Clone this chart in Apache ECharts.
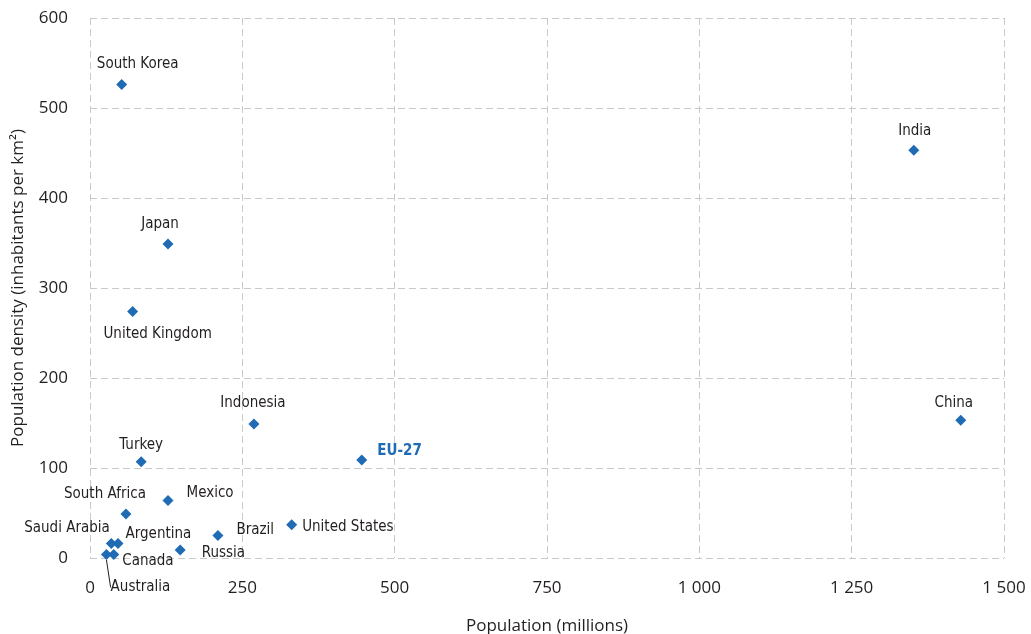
<!DOCTYPE html>
<html>
<head>
<meta charset="utf-8">
<script src="https://cdn.jsdelivr.net/npm/echarts@6/dist/echarts.min.js"></script>
<style>
html,body{margin:0;padding:0;background:#fff;}
#chart{width:1031px;height:634px;}
</style>
</head>
<body>
<div id="chart"></div>
<script>
// ---- data ----
const countries = ['South Korea','Japan','United Kingdom','India','China','Indonesia','EU-27','Turkey','Mexico','South Africa','United States','Brazil','Russia','Saudi Arabia','Argentina','Canada','Australia'];
const population = [52, 128, 70, 1352, 1429, 269, 446, 84, 128, 59, 331, 210, 148, 35, 46, 39, 27];
const density = [526, 349, 274, 453, 153, 149, 109, 107, 64, 49, 37, 25, 9, 16, 16, 4, 4];
const xTicks = [0, 250, 500, 750, 1000, 1250, 1500];
const yTicks = [0, 100, 200, 300, 400, 500, 600];

// ---- label placement (style, not data) ----
const labelStyle = {
  'South Korea':   {pos:'top',    d:[16,-2]},
  'Japan':         {pos:'top',    d:[-8,-2]},
  'United Kingdom':{pos:'bottom', d:[25,5]},
  'India':         {pos:'top',    d:[1,-1]},
  'China':         {pos:'top',    d:[-7,1]},
  'Indonesia':     {pos:'top',    d:[-1,-3]},
  'EU-27':         {pos:'right',  d:[5,-9]},
  'Turkey':        {pos:'top',    d:[0,1]},
  'Mexico':        {pos:'right',  d:[8,-7]},
  'South Africa':  {pos:'top',    d:[-21,-2]},
  'United States': {pos:'right',  d:[0,2]},
  'Brazil':        {pos:'right',  d:[8,-5]},
  'Russia':        {pos:'right',  d:[11,3]},
  'Saudi Arabia':  {pos:'left',   d:[9,-15]},
  'Argentina':     {pos:'right',  d:[-3,-9]},
  'Canada':        {pos:'right',  d:[-2,7]},
  'Australia':     {pos:'bottom', d:[34,15]}
};

const blue = '#1f6bb4';
const textCol = '#231f20';
const labelFont = '"Liberation Sans Narrow","DejaVu Sans Condensed","Roboto",sans-serif';
const axisFont = '"Open Sans","Noto Sans",sans-serif';

const seriesData = countries.map((n, i) => {
  const s = labelStyle[n];
  const item = {
    name: n,
    value: [population[i], density[i]],
    label: {position: s.pos}
  };
  if (n === 'EU-27') {
    item.label.color = blue;
    item.label.fontWeight = 'bold';
  }
  if (n === 'Australia') {
    item.labelLine = {show: true, lineStyle: {color: textCol, width: 1, opacity: 1}};
  }
  return item;
});

const fmtThousands = v => v >= 1000 ? String(v).replace(/\B(?=(\d{3})+(?!\d))/g, ' ') : String(v);

const chart = echarts.init(document.getElementById('chart'), null, {renderer: 'canvas'});
chart.setOption({
  animation: false,
  backgroundColor: '#fff',
  grid: {left: 90, right: 27, top: 18, bottom: 76, containLabel: false, outerBoundsMode: 'none'},
  xAxis: {
    type: 'value', min: xTicks[0], max: xTicks[xTicks.length-1], interval: 250,
    name: 'Population (millions)', nameLocation: 'middle', nameGap: 60,
    nameTextStyle: {fontFamily: axisFont, fontSize: 17, color: textCol},
    axisLine: {show: false}, axisTick: {show: false},
    axisLabel: {fontFamily: axisFont, fontSize: 17, color: textCol, margin: 22, formatter: fmtThousands},
    splitLine: {show: true, lineStyle: {color: '#c9c9c9', type: [7,4], width: 1}}
  },
  yAxis: {
    type: 'value', min: yTicks[0], max: yTicks[yTicks.length-1], interval: 100,
    name: 'Population density (inhabitants per km²)', nameLocation: 'middle', nameGap: 63,
    nameTextStyle: {fontFamily: axisFont, fontSize: 17, color: textCol},
    axisLine: {show: false}, axisTick: {show: false},
    axisLabel: {fontFamily: axisFont, fontSize: 17, color: textCol, margin: 22},
    splitLine: {show: true, lineStyle: {color: '#c9c9c9', type: [7,4], width: 1}}
  },
  series: [{
    type: 'scatter',
    symbol: 'diamond',
    symbolSize: 11,
    itemStyle: {color: blue, opacity: 1},
    data: seriesData,
    label: {
      show: true,
      formatter: p => p.name,
      fontFamily: labelFont,
      fontSize: 15,
      color: textCol,
      distance: 5
    },
    labelLine: {show: false},
    labelLayout: function (p) {
      const n = countries[p.dataIndex];
      const d = labelStyle[n].d;
      return {dx: d[0], dy: d[1]};
    }
  }]
});
</script>
</body>
</html>
